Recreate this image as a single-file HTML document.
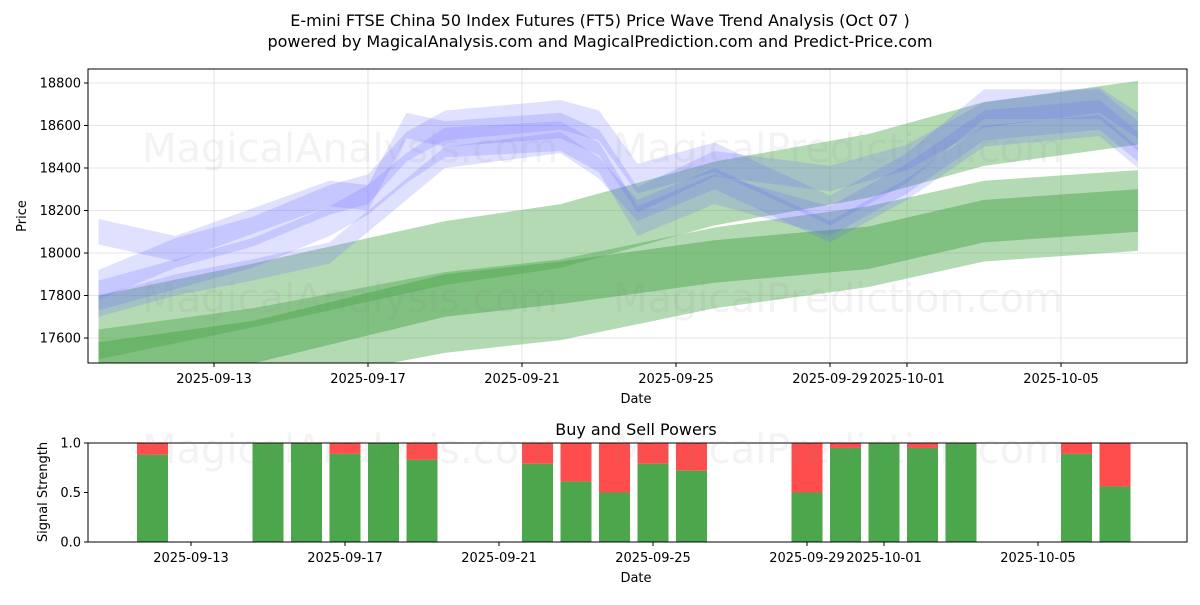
<!DOCTYPE html>
<html><head><meta charset="utf-8"><style>
body{margin:0;background:#fff;font-family:"Liberation Sans","DejaVu Sans",sans-serif}
svg text{font-family:"DejaVu Sans","Liberation Sans",sans-serif;fill:#000}
</style></head><body>
<svg id="c" width="1200" height="600" xmlns="http://www.w3.org/2000/svg">
<text x="600" y="26" text-anchor="middle" font-size="16">E-mini FTSE China 50 Index Futures (FT5) Price Wave Trend Analysis (Oct 07 )</text>
<text x="600" y="47" text-anchor="middle" font-size="16">powered by MagicalAnalysis.com and MagicalPrediction.com and Predict-Price.com</text>
<g id="main"></g>
<g id="sub"></g>
</svg>
<script>
const priceTicks=[17600,17800,18000,18200,18400,18600,18800];
const dateTicks=["2025-09-13","2025-09-17","2025-09-21","2025-09-25","2025-09-29","2025-10-01","2025-10-05"];
const greenDates=["2025-09-10","2025-09-14","2025-09-19","2025-09-22","2025-09-26","2025-09-30","2025-10-03","2025-10-07"];
const greenUp=[17650,17800,18000,18080,18280,18410,18560,18660];
const greenLow=[17450,17550,17720,17780,17930,18030,18150,18200];
const greenDark=[17480,17580,17800,17860,17960,18025,18150,18200];
const blueDates=["2025-09-10","2025-09-12","2025-09-14","2025-09-16","2025-09-17","2025-09-18","2025-09-19","2025-09-22","2025-09-23","2025-09-24","2025-09-26","2025-09-29","2025-10-01","2025-10-03","2025-10-06","2025-10-07"];
const blueA=[18100,18020,18150,18280,18260,18600,18560,18600,18520,18250,18420,18350,18450,18650,18720,18600];
const blueB=[17850,18000,18100,18250,18300,18500,18600,18650,18600,18350,18450,18200,18400,18700,18700,18550];
const blueC=[17800,17900,18000,18150,18250,18400,18520,18550,18450,18150,18300,18150,18350,18600,18650,18500];
const blueD=[17750,17850,17920,18000,18150,18300,18450,18520,18400,18200,18350,18100,18300,18550,18600,18450];
const barDates=["2025-09-12","2025-09-15","2025-09-16","2025-09-17","2025-09-18","2025-09-19","2025-09-22","2025-09-23","2025-09-24","2025-09-25","2025-09-26","2025-09-29","2025-09-30","2025-10-01","2025-10-02","2025-10-03","2025-10-06","2025-10-07"];
const buyPower=[0.88,1,1,0.89,1,0.83,0.79,0.61,0.5,0.79,0.72,0.5,0.95,1,0.95,1,0.89,0.56];
const sigTicks=[0,0.5,1];

const NS="http://www.w3.org/2000/svg";
function mk(p,t,a){const e=document.createElementNS(NS,t);for(const k in a)e.setAttribute(k,a[k]);p.appendChild(e);return e;}
const day=s=>Date.UTC(+s.slice(0,4),+s.slice(5,7)-1,+s.slice(8,10))/864e5;
const d13=day("2025-09-13");
const L=88,R=1187,T=69,B=363;
const x=s=>214+(day(s)-d13)*38.5;
const y=v=>338-(v-17600)*0.2125;
const xs=s=>191+(day(s)-d13)*38.5;
const T2=443,B2=542;
const y2=v=>B2-v*(B2-T2);
const svgEl=()=>document.getElementById('c');
const main=document.getElementById('main'),sub=document.getElementById('sub');
for(const t of priceTicks){const g=mk(main,'line',{x1:L,x2:R,y1:y(t),y2:y(t),stroke:'#ddd','stroke-width':0.8});
}
for(const d of dateTicks){const g=mk(main,'line',{x1:x(d),x2:x(d),y1:T,y2:B,stroke:'#ddd','stroke-width':0.8});
}
const clip=mk(main,'clipPath',{id:'cp'});mk(clip,'rect',{x:L,y:T,width:R-L,height:B-T});
const bands=mk(main,'g',{'clip-path':'url(#cp)'});
function band(dates,vals,half,color,op,name){
 const top=dates.map((d,i)=>x(d)+','+y(vals[i]+half));
 const bot=dates.map((d,i)=>x(d)+','+y(vals[i]-half)).reverse();
 const p=mk(bands,'polygon',{points:top.concat(bot).join(' '),fill:color,'fill-opacity':op});
 }
band(greenDates,greenUp,150,'#4ca64c',0.42,'green-band-upper');
band(greenDates,greenLow,190,'#4ca64c',0.42,'green-band-lower');
band(greenDates,greenDark,100,'#4ca64c',0.5,'green-band-core');
band(blueDates,blueA,60,'#6666ff',0.2,'blue-band-1');
band(blueDates,blueB,70,'#6666ff',0.2,'blue-band-2');
band(blueDates,blueC,70,'#6666ff',0.2,'blue-band-3');
band(blueDates,blueD,50,'#6666ff',0.2,'blue-band-4');
[[350,148,'MagicalAnalysis.com'],[838,148,'MagicalPrediction.com'],[350,298,'MagicalAnalysis.com'],[838,298,'MagicalPrediction.com'],[350,449,'MagicalAnalysis.com'],[838,449,'MagicalPrediction.com']].forEach(w=>{
 const t=mk(svgEl(),'text',{x:w[0],y:w[1]+14,'text-anchor':'middle','font-size':40,'fill-opacity':0.1});t.style.fill='#888';t.textContent=w[2];
 });
mk(main,'rect',{x:L,y:T,width:R-L,height:B-T,fill:'none',stroke:'#000','stroke-width':1});
for(const t of priceTicks){mk(main,'line',{x1:L-4,x2:L,y1:y(t),y2:y(t),stroke:'#000'});
 const tx=mk(main,'text',{x:L-7,y:y(t)+4.5,'text-anchor':'end','font-size':13});tx.textContent=t;
 }
for(const d of dateTicks){mk(main,'line',{x1:x(d),x2:x(d),y1:B,y2:B+4,stroke:'#000'});
 const tx=mk(main,'text',{x:x(d),y:B+20,'text-anchor':'middle','font-size':13});tx.textContent=d;
 }
let t1=mk(main,'text',{x:636,y:403,'text-anchor':'middle','font-size':13});t1.textContent='Date';

let t2=mk(main,'text',{x:26,y:216,'text-anchor':'middle','font-size':13,transform:'rotate(-90 26 216)'});t2.textContent='Price';

barDates.forEach((d,i)=>{
 const cx=xs(d);
 const r=mk(sub,'rect',{x:cx-15.5,y:y2(1),width:31,height:y2(buyPower[i])-y2(1),fill:'#ff4c4c'});
 
 const g=mk(sub,'rect',{x:cx-15.5,y:y2(buyPower[i]),width:31,height:B2-y2(buyPower[i]),fill:'#4ca64c'});
 });
mk(sub,'rect',{x:L,y:T2,width:R-L,height:B2-T2,fill:'none',stroke:'#000'});
for(const t of sigTicks){mk(sub,'line',{x1:L-4,x2:L,y1:y2(t),y2:y2(t),stroke:'#000'});
 const tx=mk(sub,'text',{x:L-7,y:y2(t)+4.5,'text-anchor':'end','font-size':13});tx.textContent=t.toFixed(1);
 }
for(const d of dateTicks){mk(sub,'line',{x1:xs(d),x2:xs(d),y1:B2,y2:B2+4,stroke:'#000'});
 const tx=mk(sub,'text',{x:xs(d),y:B2+20,'text-anchor':'middle','font-size':13});tx.textContent=d;
 }
let t3=mk(sub,'text',{x:636,y:582,'text-anchor':'middle','font-size':13});t3.textContent='Date';

let t4=mk(sub,'text',{x:47,y:492,'text-anchor':'middle','font-size':13,transform:'rotate(-90 47 492)'});t4.textContent='Signal Strength';

let t5=mk(sub,'text',{x:636,y:435,'text-anchor':'middle','font-size':16});t5.textContent='Buy and Sell Powers';

</script>
</body></html>
